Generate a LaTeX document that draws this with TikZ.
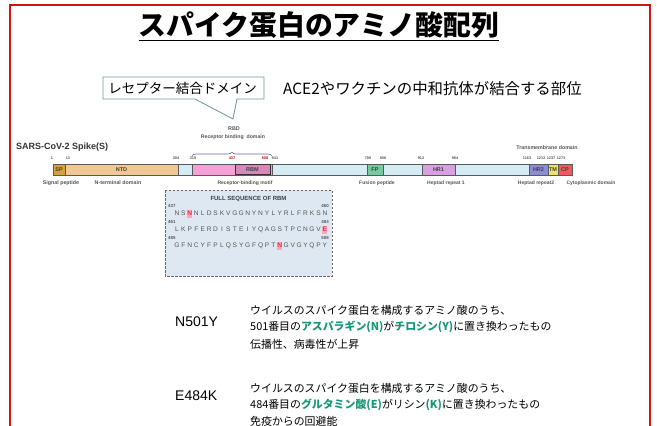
\documentclass[tikz,border=0pt]{standalone}
\usepackage{fontspec}
\setmainfont{Liberation Sans}
\newfontfamily\jp{Noto Sans CJK JP}
\usetikzlibrary{decorations.pathreplacing}
\definecolor{frame}{RGB}{210,20,20}
\definecolor{callout}{RGB}{110,150,150}
\definecolor{teal}{RGB}{25,150,120}
\definecolor{barblue}{RGB}{214,236,245}
\definecolor{cSP}{RGB}{214,160,60}
\definecolor{cNTD}{RGB}{240,200,150}
\definecolor{cRBD}{RGB}{245,160,215}
\definecolor{cRBM}{RGB}{215,135,185}
\definecolor{cFP}{RGB}{120,200,160}
\definecolor{cHR1}{RGB}{215,160,225}
\definecolor{cHR2}{RGB}{140,140,210}
\definecolor{cTM}{RGB}{240,225,110}
\definecolor{cCP}{RGB}{240,90,90}
\definecolor{seqbox}{RGB}{222,232,242}
\definecolor{lbl}{RGB}{85,85,85}
\definecolor{hl}{RGB}{245,170,185}
\tikzset{
  segline/.style={draw=gray!70!black,line width=0.4pt},
  seglabel/.style={font=\bfseries\fontsize{5.5}{6}\selectfont,text=black!75,inner sep=0},
  num/.style={font=\bfseries\fontsize{3.8}{4}\selectfont,text=lbl,inner sep=0},
  dom/.style={font=\bfseries\fontsize{5}{6}\selectfont,text=lbl,inner sep=0},
  seqletter/.style={font=\fontsize{6.6}{7}\selectfont,text=lbl,inner sep=0.4pt},
  body/.style={font=\jp\fontsize{10.9}{12}\selectfont,anchor=west,inner sep=0},
  code/.style={font=\fontsize{14}{15}\selectfont,anchor=west,inner sep=0},
}
\newcommand\spikeseg[5]{%
  \draw[segline,fill=#3] (#1,164) rectangle (#2,175);
  \node[seglabel] (#5) at ({(#1+#2)/2},169.5) {#4};}
\newcommand\seqline[2]{%
  \foreach \ch [count=\i] in {#2} {
    \node[seqletter] at ({177+(\i-1)*6.43},#1) {\ch};
  }}
\newcommand\tl[1]{\textcolor{teal}{\bfseries #1}}
\begin{document}
\begin{tikzpicture}[x=1pt,y=-1pt]
\useasboundingbox (0,0) rectangle (657,426);
% frame
\draw[frame,line width=2.4pt] (10,430) -- (10,5) -- (650,5) -- (650,430);
% title
\node[font=\jp\bfseries\fontsize{27.8}{28}\selectfont,inner sep=0] (title) at (319,25) {スパイク蛋白のアミノ酸配列};
\draw[line width=1.6pt] ([yshift=-5pt]title.base west) -- ([yshift=-5pt]title.base east);
% callout
\draw[callout,line width=0.8pt,fill=white] (103,77) -- (264,77) -- (264,99) -- (237,99) -- (233,119) -- (195,99) -- (103,99) -- cycle;
\node[font=\jp\fontsize{13.5}{14}\selectfont,inner sep=0] (callt) at (182.5,88) {レセプター結合ドメイン};
\node[font=\jp\fontsize{15.4}{16}\selectfont,anchor=west,inner sep=0] (ace) at (283,88.5) {ACE2やワクチンの中和抗体が結合する部位};
% RBD labels
\node[font=\bfseries\fontsize{5.4}{6}\selectfont,text=lbl,inner sep=0] (rbd) at (234,129) {RBD};
\node[font=\bfseries\fontsize{5.2}{6}\selectfont,text=lbl,inner sep=0] (rbdl) at (233,137) {Receptor binding\ \ domain};
\draw[decorate,decoration={brace,amplitude=4pt},gray!80!blue,line width=0.6pt] (192,156) -- (272,156);
% spike title
\node[font=\bfseries\fontsize{9}{10}\selectfont,text=black!80,anchor=west,inner sep=0] (spk) at (16,147) {SARS-CoV-2 Spike(S)};
\node[font=\bfseries\fontsize{5.3}{6}\selectfont,text=lbl,inner sep=0] (tmd) at (547,148) {Transmembrane domain};
% bar
\draw[segline,fill=barblue] (53,164) rectangle (572,175);
\spikeseg{53}{65}{cSP}{SP}{sp}
\spikeseg{65}{178}{cNTD}{NTD}{ntd}
\spikeseg{192}{272}{cRBD}{}{rbdseg}
\draw[draw=gray!40!black,fill=cRBM,line width=0.4pt] (235,164.5) rectangle (270,174.5);
\node[seglabel] (rbm) at (252.5,169.5) {RBM};
\spikeseg{367}{383}{cFP}{FP}{fp}
\spikeseg{422}{455}{cHR1}{HR1}{hr1}
\spikeseg{529}{548}{cHR2}{HR2}{hr2}
\spikeseg{548}{558}{cTM}{TM}{tm}
\spikeseg{558}{572}{cCP}{CP}{cp}
% numbers
\foreach \x/\t in {52/1,68/13,176/304,193/319,275/541,368/788,383/806,421/912,455/984,527/1163,541/1213,551/1237,561/1273}
  \node[num] at (\x,158) {\t};
\node[num,text=red!80!black] at (232,158) {437};
\node[num,text=red!80!black] at (265,158) {508};
% domain labels
\node[dom,font=\bfseries\fontsize{5.3}{6}\selectfont] at (61,183) {Signal peptide};
\node[dom,font=\bfseries\fontsize{5.3}{6}\selectfont] at (118,183) {N-terminal domain};
\node[dom] at (245,183) {Receptor-binding motif};
\node[dom] at (377,183) {Fusion peptide};
\node[dom] at (446,183) {Heptad repeat 1};
\node[dom] at (536,183) {Heptad repeat2};
\node[dom] at (591,183) {Cytoplasmic domain};
% sequence box
\draw[gray!80!black,dashed,dash pattern=on 2.5pt off 1.5pt,fill=seqbox,line width=0.6pt] (165,190) rectangle (332,276);
\node[font=\bfseries\fontsize{6}{7}\selectfont,text=black!75,inner sep=0] (seqt) at (248.5,198.5) {FULL SEQUENCE OF RBM};
\foreach \n/\y in {437/206,461/222,485/238}
  \node[num,font=\bfseries\fontsize{4.4}{5}\selectfont,anchor=west] at (168,\y) {\n};
\foreach \n/\y in {460/206,484/222,508/238}
  \node[num,font=\bfseries\fontsize{4.4}{5}\selectfont,anchor=east] at (329,\y) {\n};
% highlights
\fill[hl] ({177+2*6.43-2.6},209.5) rectangle ({177+2*6.43+2.6},217.5);
\fill[hl] ({177+23*6.43-2.6},225.5) rectangle ({177+23*6.43+2.6},233.5);
\fill[hl] ({177+16*6.43-2.6},241.5) rectangle ({177+16*6.43+2.6},249.5);
\seqline{213.5}{N,S,\textcolor{red}{N},N,L,D,S,K,V,G,G,N,Y,N,Y,L,Y,R,L,F,R,K,S,N}
\seqline{229.5}{L,K,P,F,E,R,D,I,S,T,E,I,Y,Q,A,G,S,T,P,C,N,G,V,\textcolor{red}{E}}
\seqline{245.5}{G,F,N,C,Y,F,P,L,Q,S,Y,G,F,Q,P,T,\textcolor{red}{N},G,V,G,Y,Q,P,Y}
% mutations
\node[code] (n501) at (175,322) {N501Y};
\node[body] (n1) at (250,310) {ウイルスのスパイク蛋白を構成するアミノ酸のうち、};
\node[body] (n2) at (250,327) {501番目の\tl{アスパラギン(N)}が\tl{チロシン(Y)}に置き換わったもの};
\node[body] (n3) at (250,344.5) {伝播性、病毒性が上昇};
\node[code] (e484) at (175,396) {E484K};
\node[body] (e1) at (250,388) {ウイルスのスパイク蛋白を構成するアミノ酸のうち、};
\node[body] (e2) at (250,405) {484番目の\tl{グルタミン酸(E)}がリシン\tl{(K)}に置き換わったもの};
\node[body] (e3) at (250,421.5) {免疫からの回避能};
\end{tikzpicture}
\end{document}
